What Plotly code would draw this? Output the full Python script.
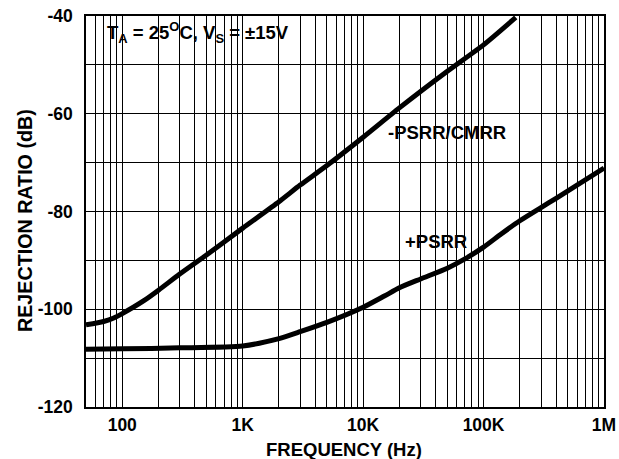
import math
import plotly.graph_objects as go

# ---- data ----
cmrr_freq = [50, 70, 85, 100, 150, 200, 300, 500, 1000, 2000, 3000, 5000,
             10000, 20000, 50000, 100000, 185000]
cmrr_db = [-103.2, -102.5, -101.8, -100.9, -98.3, -96.1, -92.8, -88.9, -83.4,
           -78.0, -74.6, -70.6, -64.8, -58.8, -51.3, -45.9, -40.3]

psrr_freq = [50, 100, 300, 1000, 2000, 3000, 5000, 10000, 15000, 20000, 30000,
             50000, 70000, 100000, 140000, 200000, 300000, 400000, 1000000]
psrr_db = [-108.2, -108.1, -107.9, -107.5, -106.0, -104.6, -102.7, -99.6, -97.3,
           -95.6, -93.8, -91.6, -89.7, -87.3, -84.6, -81.9, -79.2, -77.3, -71.1]

x_tick_vals = [100, 1000, 10000, 100000, 1000000]
x_tick_text = ["100", "1K", "10K", "100K", "1M"]
y_tick_vals = [-120, -100, -80, -60, -40]
y_tick_text = ["-120", "-100", "-80", "-60", "-40"]

x_minor = [m * 10 ** e for e in range(1, 6) for m in range(2, 10)
           if 50 <= m * 10 ** e <= 1e6]

FONT = "Liberation Sans, Arial, Helvetica, sans-serif"
X_LO, X_HI = math.log10(50), 6.0
Y_LO, Y_HI = -120, -40

fig = go.Figure()
fig.add_trace(go.Scatter(x=cmrr_freq, y=cmrr_db, mode="lines",
                         line=dict(color="black", width=5, shape="spline", smoothing=0.6),
                         showlegend=False, hoverinfo="skip"))
fig.add_trace(go.Scatter(x=psrr_freq, y=psrr_db, mode="lines",
                         line=dict(color="black", width=5, shape="spline", smoothing=0.6),
                         showlegend=False, hoverinfo="skip"))

grid = dict(color="black", width=1.3)

fig.update_xaxes(type="log", range=[X_LO, X_HI], automargin=False,
                 tickmode="array", tickvals=x_tick_vals, ticktext=x_tick_text,
                 showgrid=True, gridcolor=grid["color"], gridwidth=grid["width"],
                 minor=dict(tickmode="array", tickvals=x_minor, showgrid=True,
                            gridcolor=grid["color"], gridwidth=grid["width"], ticks=""),
                 showline=True, linecolor="black", linewidth=1.5, mirror=True,
                 ticks="", ticklen=0, zeroline=False, ticklabelstandoff=1,
                 tickfont=dict(family=FONT, size=17.5, color="black", weight="bold"))
fig.update_yaxes(range=[Y_LO, Y_HI], automargin=False,
                 tickmode="array", tickvals=y_tick_vals, ticktext=y_tick_text,
                 showgrid=True, gridcolor=grid["color"], gridwidth=grid["width"],
                 minor=dict(dtick=10, showgrid=True, gridcolor=grid["color"],
                            gridwidth=grid["width"], ticks=""),
                 showline=True, linecolor="black", linewidth=1.5, mirror=True,
                 ticks="", ticklen=0, zeroline=False, ticklabelstandoff=8,
                 tickfont=dict(family=FONT, size=17.5, color="black", weight="bold"))

L, R, T, B = 86, 604, 16, 407  # plot-area pixel edges (for placing text boxes)


def px_to_x(px):
    return X_LO + (px - L) / (R - L) * (X_HI - X_LO)


def py_to_y(py):
    return Y_HI - (py - T) / (B - T) * (Y_HI - Y_LO)


def pbox(x0, x1, y0, y1):
    return dict(type="rect", xref="x", yref="y", layer="between",
                x0=px_to_x(x0), x1=px_to_x(x1),
                y0=py_to_y(y1), y1=py_to_y(y0),
                fillcolor="white", line=dict(width=0))


fig.add_shape(**pbox(87, 307, 18, 53))
fig.add_shape(**pbox(380, 512, 116, 146))
fig.add_shape(**pbox(396, 475, 224, 258))


def pann(text, px, py, size, angle=0):
    return dict(text=text, xref="paper", yref="paper",
                x=(px - L) / (R - L), y=(B - py) / (B - T),
                xanchor="center", yanchor="middle", showarrow=False,
                textangle=angle,
                font=dict(family=FONT, size=size, color="black", weight="bold"))


fig.add_annotation(**pann("T<sub>A</sub> = 25<sup>O</sup>C, V<sub>S</sub> = ±15V", 198, 33, 18.5))
fig.add_annotation(**pann("-PSRR/CMRR", 447, 132, 18.5))
fig.add_annotation(**pann("+PSRR", 436, 242, 18.5))
fig.add_annotation(**pann("FREQUENCY (Hz)", 344, 449, 18.5))
fig.add_annotation(**pann("REJECTION RATIO (dB)", 25, 221, 19.7, angle=-90))

fig.update_layout(width=619, height=459, autosize=False,
                  margin=dict(l=86, r=15, t=16, b=52),
                  paper_bgcolor="white", plot_bgcolor="white",
                  font=dict(family=FONT, color="black"))

fig.write_html("out.html",
               config={"displayModeBar": False, "responsive": False},
               post_script=("document.body.style.margin='0';"
                            "document.body.style.padding='0';"
                            "document.body.style.overflow='hidden';"))
